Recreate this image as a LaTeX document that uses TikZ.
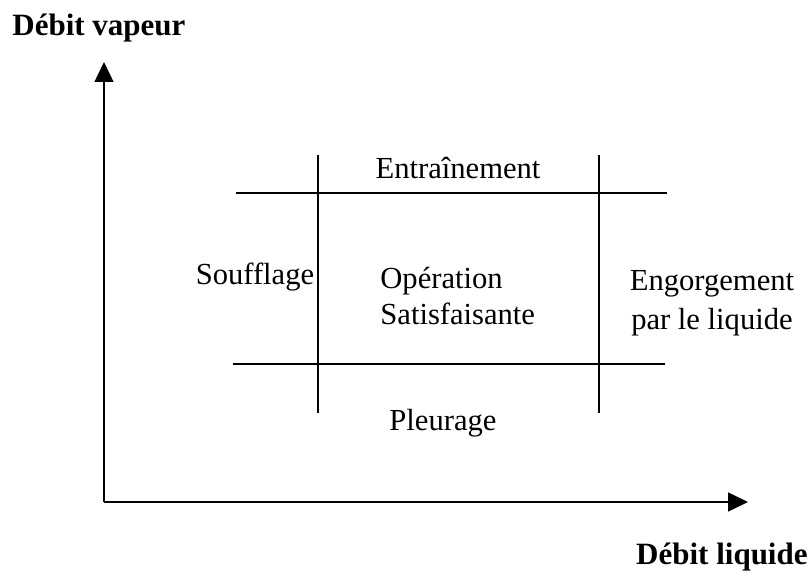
\documentclass[tikz,border=0pt]{standalone}
\usepackage{fontspec}
\setmainfont{Liberation Serif}
\usetikzlibrary{arrows.meta}

\begin{document}
\begin{tikzpicture}[x=0.5pt,y=-0.5pt,
  axis/.style={line width=0.7pt,-{Triangle[length=10pt,width=9.5pt]}},
  limit/.style={line width=0.6pt},
  zone/.style={font=\fontsize{15.3}{18}\selectfont,inner sep=0pt},
  axlabel/.style={font=\fontsize{15.5}{18}\selectfont\bfseries,inner sep=0pt}]
\useasboundingbox (0,0) rectangle (809,571);

%Axes
\coordinate (o) at (104,502);
\coordinate (ytip) at (104,62);
\coordinate (xtip) at (748,502);
\draw[axis] (o)--(ytip);
\draw[axis] (o)--(xtip);
\node[axlabel,anchor=west] (yl) at (12,28) {Débit vapeur};
\node[axlabel,anchor=east] (xl) at (808,557) {Débit liquide};

%Limits
\coordinate (h1a) at (236,193); \coordinate (h1b) at (667,193);
\coordinate (h2a) at (233,364); \coordinate (h2b) at (665,364);
\coordinate (v1a) at (318,155); \coordinate (v1b) at (318,413);
\coordinate (v2a) at (599,155); \coordinate (v2b) at (599,413);
\draw[limit] (h1a)--(h1b); \draw[limit] (h2a)--(h2b);
\draw[limit] (v1a)--(v1b); \draw[limit] (v2a)--(v2b);

%Zones
\node[zone] (entr) at (458,168) {Entraînement};
\node[zone] (souf) at (255,277) {Soufflage};
\node[zone,align=left,anchor=west] (oper) at (380,296) {Opération\\Satisfaisante};
\node[zone,align=center,font=\fontsize{15.3}{19.5}\selectfont] (engo) at (712,303) {Engorgement\\par le liquide};
\node[zone] (pleu) at (443,423) {Pleurage};

\end{tikzpicture}
\end{document}
